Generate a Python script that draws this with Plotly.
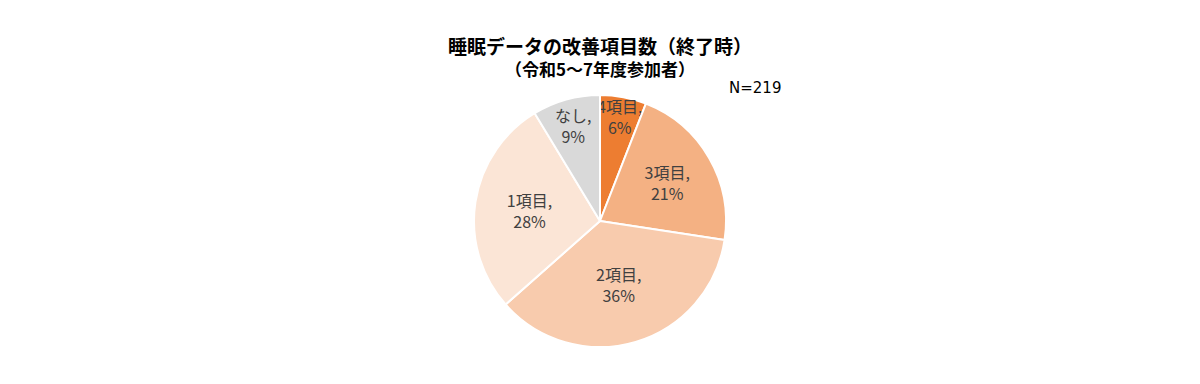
import plotly.graph_objects as go

categories = ["4項目", "3項目", "2項目", "1項目", "なし"]
counts = [13, 47, 79, 61, 19]  # (N=219)
colors = ["#ED7D31", "#F4B183", "#F8CBAD", "#FBE5D6", "#D9D9D9"]
title_text = "睡眠データの改善項目数（終了時）"
subtitle_text = "（令和5～7年度参加者）"
n_text = "N=219"

W, H = 1200, 384
cx, cy, r = 600, 221, 126

fig = go.Figure(go.Pie(
    labels=categories,
    values=counts,
    texttemplate="%{label},<br>%{percent:.0%}",
    textposition="inside",
    insidetextorientation="horizontal",
    sort=False,
    direction="clockwise",
    rotation=0,
    marker=dict(colors=colors, line=dict(color="white", width=2)),
    textfont=dict(family="Noto Sans CJK JP", size=16, color="#404040"),
    hoverinfo="label+percent",
    domain=dict(x=[(cx - r) / W, (cx + r) / W],
                y=[(H - cy - r) / H, (H - cy + r) / H]),
    showlegend=False,
))

fig.update_layout(
    width=W, height=H,
    margin=dict(l=0, r=0, t=0, b=0),
    paper_bgcolor="white",
    plot_bgcolor="white",
    uniformtext=dict(minsize=16, mode="show"),
    font=dict(family="Noto Sans CJK JP", color="#404040"),
    annotations=[
        dict(text=f"<b>{title_text}</b>", x=0.5, y=1 - 45 / H, xref="paper", yref="paper",
             showarrow=False, xanchor="center", yanchor="middle",
             font=dict(size=19, color="#000000", family="Noto Sans CJK JP")),
        dict(text=f"<b>{subtitle_text}</b>", x=0.5, y=1 - 68 / H, xref="paper", yref="paper",
             showarrow=False, xanchor="center", yanchor="middle",
             font=dict(size=17, color="#000000", family="Noto Sans CJK JP")),
        dict(text=n_text, x=727 / W, y=1 - 88 / H, xref="paper", yref="paper",
             showarrow=False, xanchor="left", yanchor="middle",
             font=dict(size=15, color="#000000", family="DejaVu Sans")),
    ],
)

fig.write_html("out.html", config={"displayModeBar": False},
               post_script="document.body.style.margin='0';")
